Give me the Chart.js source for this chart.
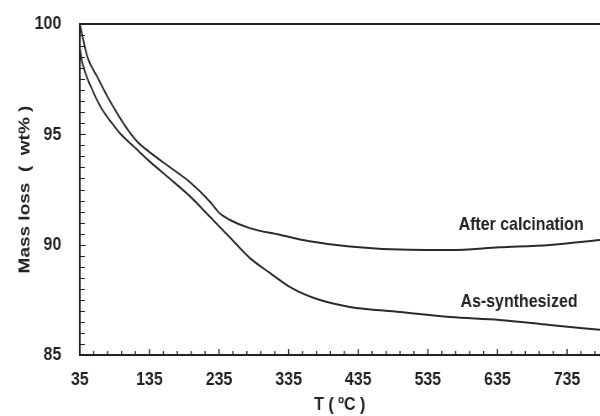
<!DOCTYPE html>
<html>
<head>
<meta charset="utf-8">
<script src="https://cdn.jsdelivr.net/npm/chart.js@4/dist/chart.umd.min.js"></script>
<style>
  html, body { margin: 0; padding: 0; background: #fff; }
  #wrap { width: 600px; height: 416px; overflow: hidden; }
  /* the source figure is squeezed sideways, so draw wide and squeeze */
  #tga { transform: scale(0.84, 1); transform-origin: 0 0; }
</style>
</head>
<body>
<div id="wrap"><canvas id="tga" width="714" height="416"></canvas></div>
<script>
// tick labels
var xTicks = [35, 135, 235, 335, 435, 535, 635, 735];
var yTicks = [85, 90, 95, 100];

// After calcination
var calcTemp = [35, 46, 61, 75, 90, 104, 118, 137, 164, 193, 222, 236, 250, 279, 322, 365, 423, 495, 567, 638, 710, 782];
var calcMass = [100.0, 98.5, 97.55, 96.69, 95.88, 95.2, 94.65, 94.15, 93.52, 92.84, 91.95, 91.42, 91.13, 90.75, 90.45, 90.15, 89.92, 89.78, 89.76, 89.88, 89.99, 90.21];

// As-synthesized
var synTemp = [35, 39, 51, 65, 80, 94, 114, 136, 164, 193, 222, 250, 279, 308, 337, 380, 423, 495, 567, 638, 710, 782];
var synMass = [98.9, 98.2, 97.15, 96.24, 95.55, 95.0, 94.4, 93.75, 93.0, 92.2, 91.26, 90.35, 89.4, 88.72, 88.08, 87.49, 87.18, 86.95, 86.72, 86.59, 86.36, 86.14];

var seriesNames = ["After calcination", "As-synthesized"];

var FONT = "'Liberation Sans', Arial, sans-serif";
var INK = "#222";

function toPoints(xs, ys) {
    return xs.map(function(x, i) { return {x: x, y: ys[i]}; });
}

function noPad(s) {
    s.paddingTop = 0;
    s.paddingBottom = 0;
    s.paddingLeft = 0;
    s.paddingRight = 0;
}

// frame, inward ticks and curve labels
var framePlugin = {
    id: 'frame',
    afterDraw: function(chart) {
        var ctx = chart.ctx;
        var a = chart.chartArea;
        var xs = chart.scales.x, ys = chart.scales.y;
        ctx.save();
        ctx.strokeStyle = INK;
        ctx.lineWidth = 1.8;
        ctx.beginPath();
        ctx.moveTo(a.right, a.top);
        ctx.lineTo(a.left, a.top);
        ctx.moveTo(a.left, a.bottom);
        ctx.lineTo(a.right, a.bottom);
        ctx.stroke();
        ctx.lineWidth = 2.1;
        ctx.beginPath();
        ctx.moveTo(a.left, a.top - 0.9);
        ctx.lineTo(a.left, a.bottom + 0.9);
        ctx.stroke();

        ctx.lineWidth = 1.4;
        ctx.beginPath();
        for (var t = xs.min; t <= xs.max; t += 20) {
            var px = xs.getPixelForValue(t);
            var len = ((t - 35) % 100 === 0) ? 6 : 4;
            ctx.moveTo(px, a.bottom);
            ctx.lineTo(px, a.bottom - len);
        }
        ctx.stroke();
        ctx.lineWidth = 1.2;
        ctx.beginPath();
        for (var m = ys.min; m <= ys.max; m += 0.5) {
            var py = Math.round(ys.getPixelForValue(m)) + 0.5;
            var ylen = (m % 5 === 0) ? 7 : 6;
            ctx.moveTo(a.left, py);
            ctx.lineTo(a.left + ylen, py);
        }
        ctx.stroke();

        ctx.fillStyle = INK;
        ctx.font = "bold 19px " + FONT;
        ctx.textAlign = 'center';
        ctx.textBaseline = 'middle';
        ctx.fillText(seriesNames[0], xs.getPixelForValue(669), ys.getPixelForValue(90.89));
        ctx.fillText(seriesNames[1], xs.getPixelForValue(666), ys.getPixelForValue(87.4));
        ctx.restore();
    }
};

var lineStyle = {
    borderColor: '#2a2a2a',
    borderWidth: 2,
    pointRadius: 0,
    fill: false,
    cubicInterpolationMode: 'monotone'
};

new Chart(document.getElementById('tga'), {
    type: 'line',
    data: {
        datasets: [
            Object.assign({label: seriesNames[0], data: toPoints(calcTemp, calcMass)}, lineStyle),
            Object.assign({label: seriesNames[1], data: toPoints(synTemp, synMass)}, lineStyle)
        ]
    },
    options: {
        responsive: false,
        animation: false,
        devicePixelRatio: 1,
        layout: { padding: { top: 24, right: 0, left: 0, bottom: 0 } },
        plugins: { legend: { display: false }, tooltip: { enabled: false } },
        scales: {
            x: {
                type: 'linear',
                min: 35,
                max: 782,
                grid: { display: false, drawTicks: false },
                border: { display: false },
                afterBuildTicks: function(s) { s.ticks = xTicks.map(function(v) { return {value: v}; }); },
                afterFit: function(s) { s.height = 61; noPad(s); },
                ticks: {
                    color: INK,
                    font: { family: FONT, size: 19, weight: 'bold' },
                    padding: 13,
                    maxRotation: 0,
                    autoSkip: false
                },
                title: {
                    display: true,
                    text: 'T ( ºC )',
                    color: INK,
                    font: { family: FONT, size: 19, weight: 'bold' },
                    padding: { top: 0, bottom: 0 }
                }
            },
            y: {
                min: 85,
                max: 100,
                grid: { display: false, drawTicks: false },
                border: { display: false },
                afterBuildTicks: function(s) { s.ticks = yTicks.map(function(v) { return {value: v}; }); },
                afterFit: function(s) { s.width = 95; noPad(s); },
                ticks: {
                    color: INK,
                    font: { family: FONT, size: 19, weight: 'bold' },
                    padding: 22
                },
                title: {
                    display: true,
                    text: 'Mass loss  (  wt% )',
                    color: INK,
                    font: { family: FONT, size: 19, weight: 'bold' },
                    padding: { top: 18, bottom: 0 }
                }
            }
        }
    },
    plugins: [framePlugin]
});
</script>
</body>
</html>
